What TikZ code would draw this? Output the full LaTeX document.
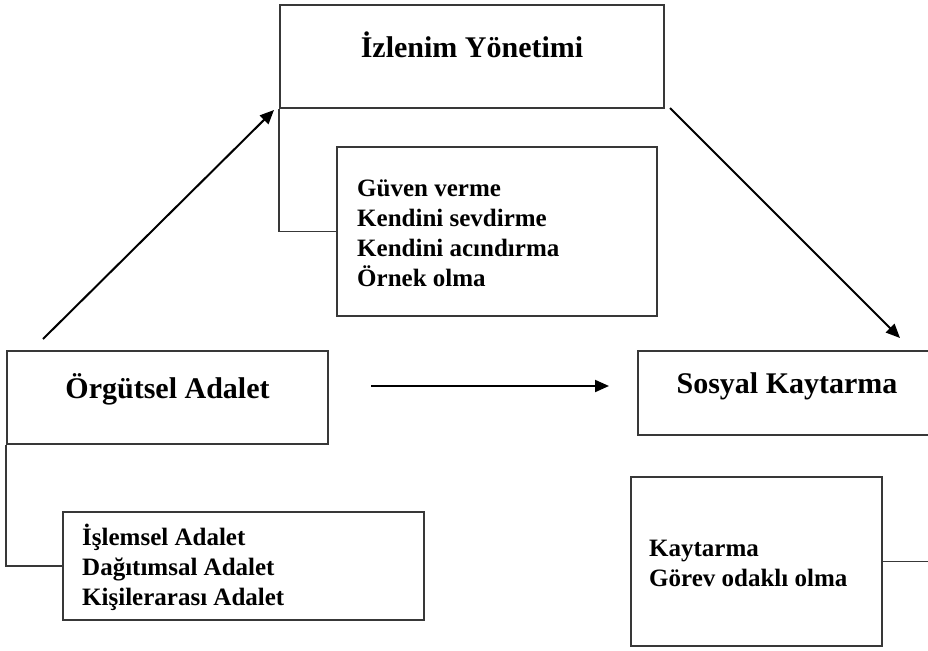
\documentclass[tikz,border=0pt]{standalone}
\usepackage{fontspec}
\setmainfont{Liberation Serif}
\usetikzlibrary{arrows.meta}
\tikzset{
  boxline/.style={draw=black!78, line width=1.8pt},
  box/.style={boxline, rectangle, inner sep=0pt},
  conn/.style={draw=black, line width=2pt, -{Triangle[length=14pt,width=12pt]}},
  title/.style={font=\bfseries\fontsize{30}{34}\selectfont, inner sep=0pt, anchor=base},
  items/.style={font=\bfseries\fontsize{25}{29.7}\selectfont, inner sep=0pt, anchor=base west, align=left}
}
\begin{document}
\begin{tikzpicture}[x=1pt,y=-1pt]
\useasboundingbox[fill=white] (0,0) rectangle (928,650);
% boxes
\node[box, minimum width=384pt, minimum height=103pt] (iy) at (472,56.5) {};
\node[box, minimum width=320pt, minimum height=169pt] (ig) at (497,231.5) {};
\node[box, minimum width=321pt, minimum height=93pt] (oa) at (167.5,397.5) {};
\node[box, minimum width=361pt, minimum height=108pt] (oas) at (243.5,566) {};
\node[box, minimum width=297pt, minimum height=84pt] (sk) at (786.5,393) {};
\node[box, minimum width=251pt, minimum height=169pt] (sks) at (756.5,561.5) {};
% texts (multi-line nodes: base = last line)
\node[title] (t1) at (472,58) {İzlenim Yönetimi};
\node[items] (t2) at (357,286) {Güven verme\\Kendini sevdirme\\Kendini acındırma\\Örnek olma};
\node[title] (t3) at (167.5,398) {Örgütsel Adalet};
\node[items] (t4) at (82,605) {İşlemsel Adalet\\Dağıtımsal Adalet\\Kişilerarası Adalet};
\node[title] (t5) at (787,393) {Sosyal Kaytarma};
\node[items] (t6) at (649,586) {Kaytarma\\Görev odaklı olma};
% brackets
\coordinate (rend) at (935,561.5);
\draw[boxline] (iy.south west) |- (ig.west);
\draw[boxline] (oa.south west) |- (oas.west);
\draw[boxline] (sks.east) -- (sks.east -| rend);
% arrows
\coordinate (a1s) at (43,339);
\coordinate (a1e) at (274,110);
\coordinate (a2s) at (670,108);
\coordinate (a2e) at (900,338);
\coordinate (a3s) at (371,386);
\coordinate (a3e) at (609,386);
\draw[conn] (a1s) -- (a1e);
\draw[conn] (a2s) -- (a2e);
\draw[conn] (a3s) -- (a3e);
\end{tikzpicture}
\end{document}
